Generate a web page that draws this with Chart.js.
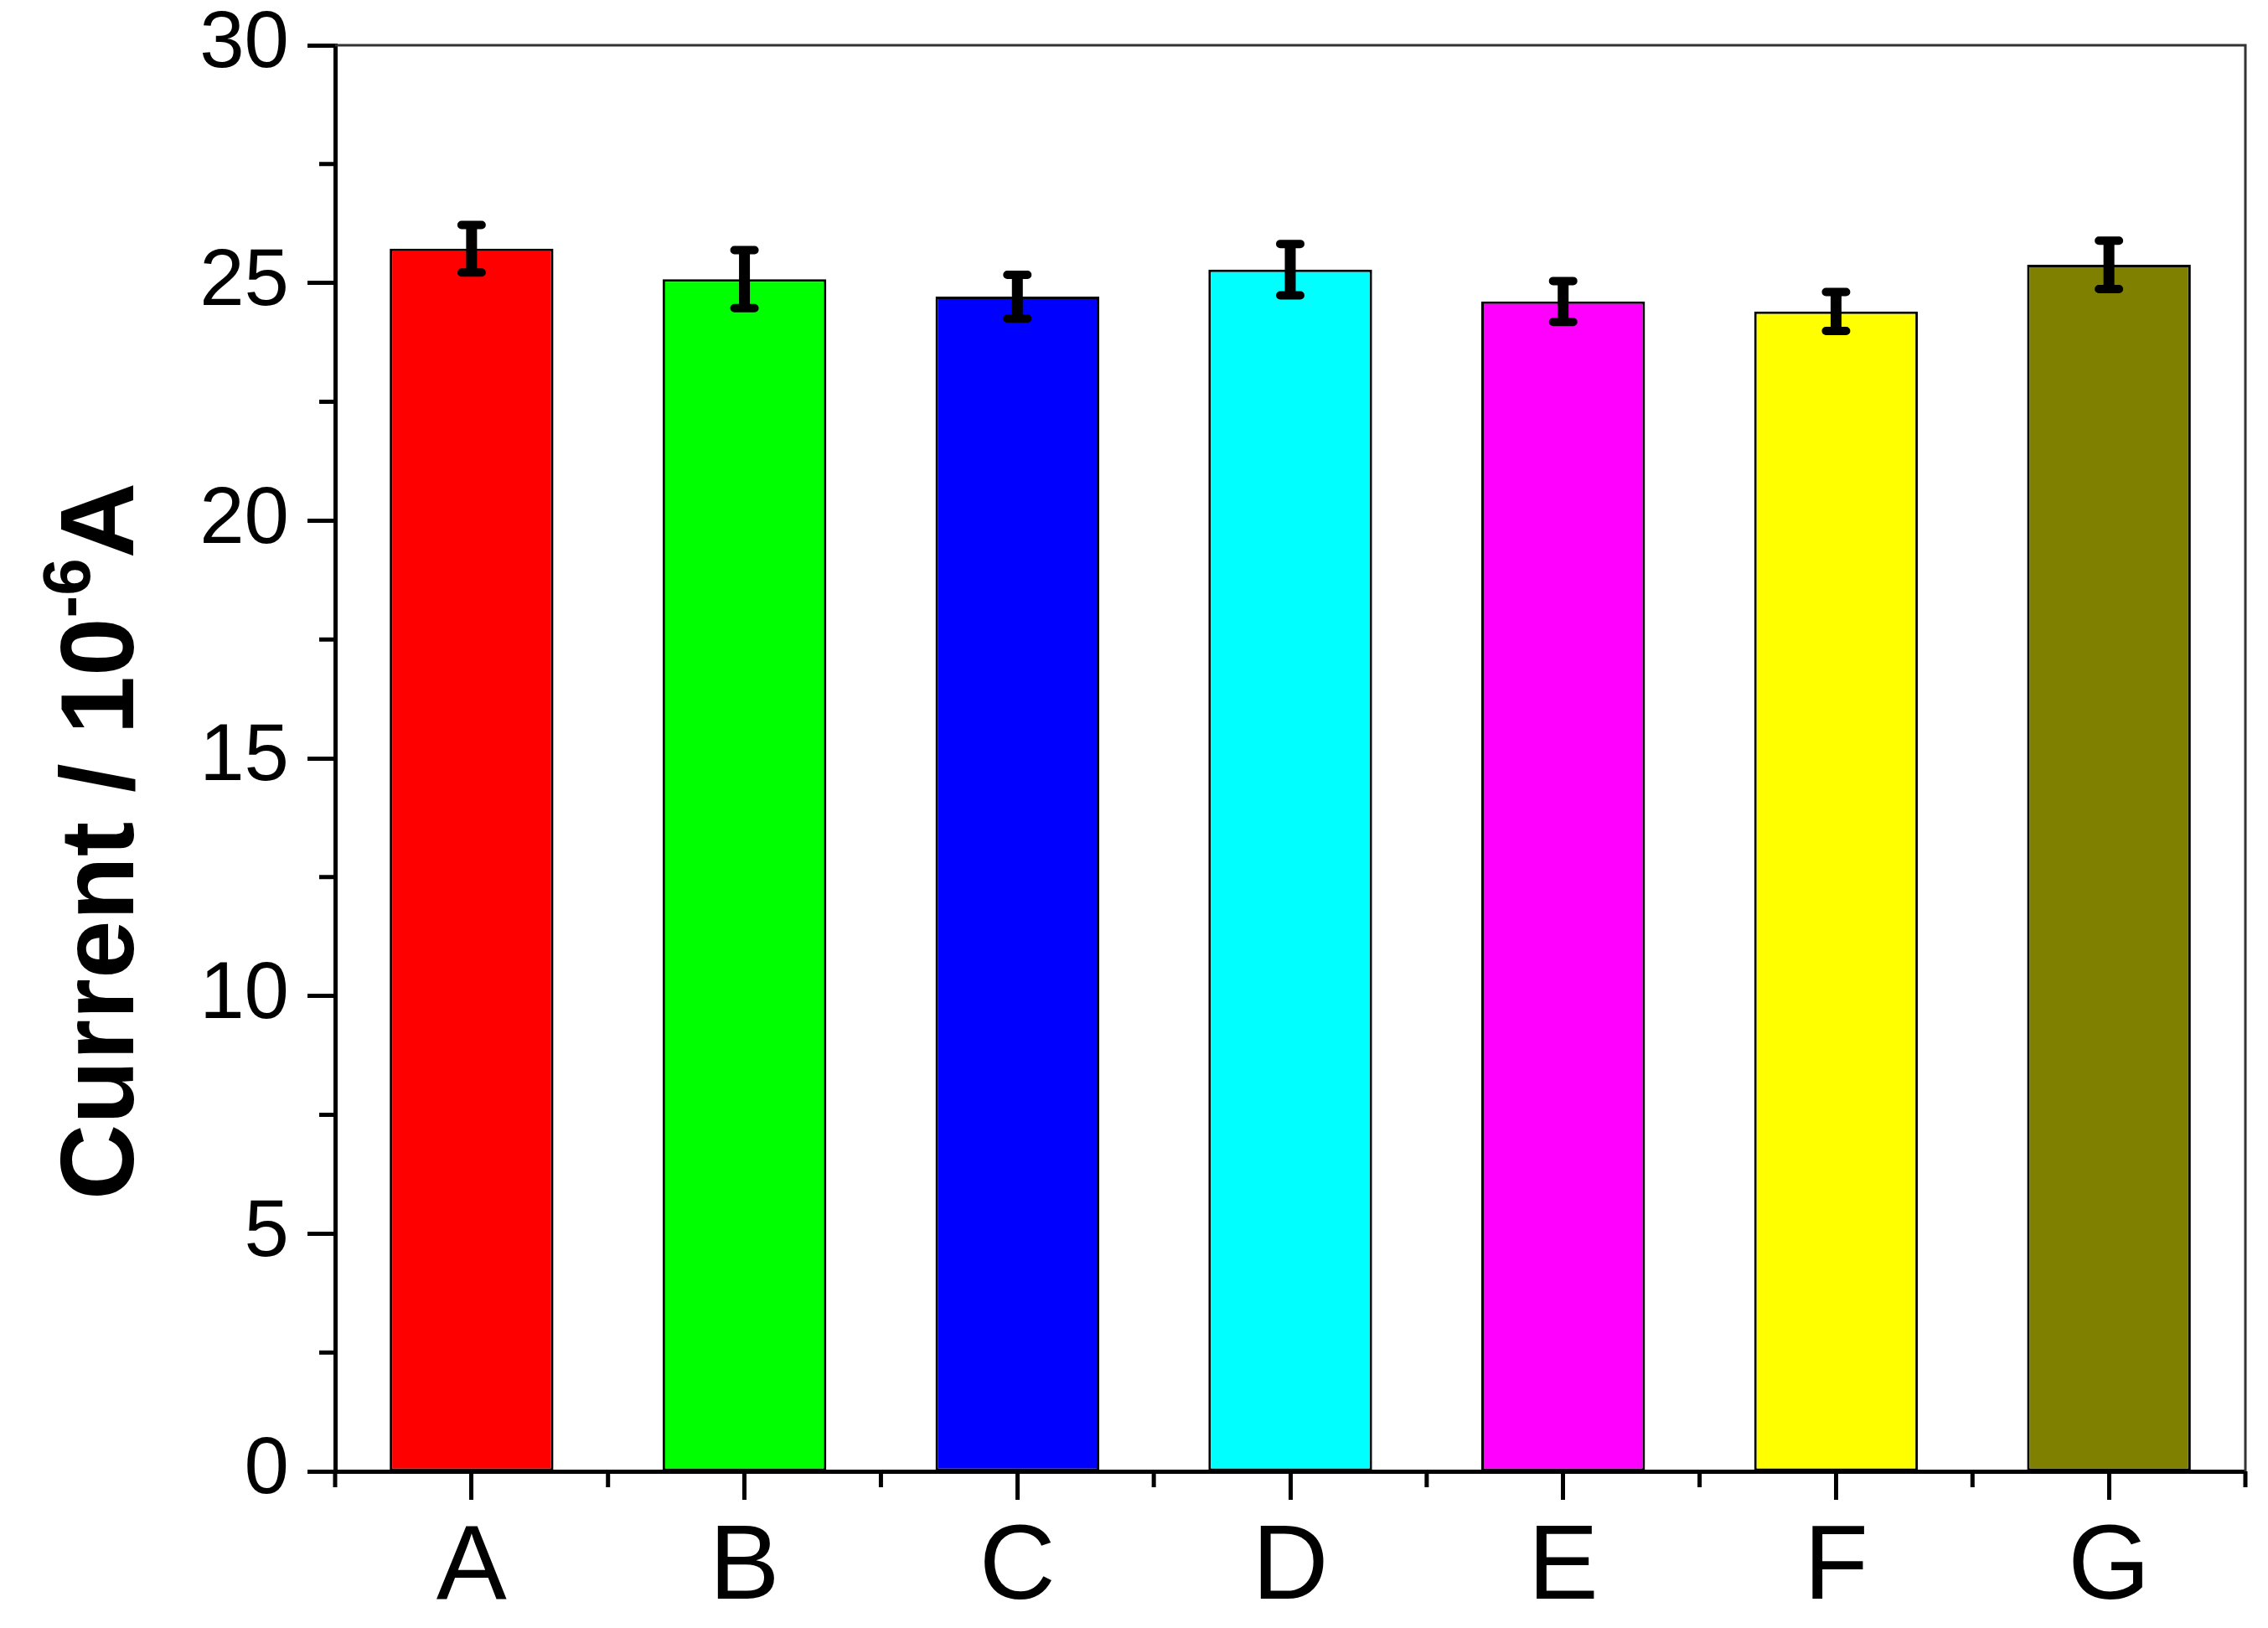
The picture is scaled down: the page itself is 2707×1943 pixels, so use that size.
<!DOCTYPE html>
<html>
<head>
<meta charset="utf-8">
<script src="https://cdn.jsdelivr.net/npm/chart.js@4"></script>
<style>
  html, body { margin: 0; padding: 0; background: #fff; }
  #wrap { width: 2707px; height: 1943px; }
</style>
</head>
<body>
<div id="wrap"><canvas id="chart"></canvas></div>
<script>
// data
const categories = ['A', 'B', 'C', 'D', 'E', 'F', 'G'];
const currents = [25.72, 25.08, 24.71, 25.28, 24.61, 24.40, 25.38];
const errors = [0.50, 0.61, 0.46, 0.54, 0.43, 0.41, 0.51];
const barColors = ['#ff0000', '#00ff00', '#0000ff', '#00ffff', '#ff00ff', '#ffff00', '#808000'];
const yTicks = [0, 5, 10, 15, 20, 25, 30];
const yMinorTicks = [2.5, 7.5, 12.5, 17.5, 22.5, 27.5];

const FONT = '"Liberation Sans", Arial, sans-serif';

// error bars, minor ticks, frame and the y title
const extras = {
  id: 'extras',
  afterDatasetsDraw(chart) {
    const ctx = chart.ctx;
    const y = chart.scales.y;
    const meta = chart.getDatasetMeta(0);
    ctx.save();
    ctx.strokeStyle = '#000';
    meta.data.forEach((bar, i) => {
      const top = y.getPixelForValue(currents[i] + errors[i]);
      const bot = y.getPixelForValue(currents[i] - errors[i]);
      ctx.lineCap = 'butt';
      ctx.lineWidth = 13;
      ctx.beginPath();
      ctx.moveTo(bar.x, top);
      ctx.lineTo(bar.x, bot);
      ctx.stroke();
      ctx.lineCap = 'round';
      ctx.lineWidth = 10;
      ctx.beginPath();
      ctx.moveTo(bar.x - 12, top); ctx.lineTo(bar.x + 12, top);
      ctx.moveTo(bar.x - 12, bot); ctx.lineTo(bar.x + 12, bot);
      ctx.stroke();
    });
    ctx.restore();
  },
  afterDraw(chart) {
    const ctx = chart.ctx;
    const a = chart.chartArea;
    const x = chart.scales.x;
    const y = chart.scales.y;
    ctx.save();
    // top + right frame
    ctx.strokeStyle = '#333';
    ctx.lineWidth = 3;
    ctx.beginPath();
    ctx.moveTo(a.left, a.top);
    ctx.lineTo(a.right, a.top);
    ctx.lineTo(a.right, a.bottom);
    ctx.stroke();

    // minor ticks
    ctx.strokeStyle = '#000';
    ctx.lineWidth = 5;
    ctx.beginPath();
    yMinorTicks.forEach(v => {
      const py = y.getPixelForValue(v);
      ctx.moveTo(a.left, py);
      ctx.lineTo(a.left - 19, py);
    });
    for (let i = 0; i <= categories.length; i++) {
      const px = x.getPixelForValue(i - 0.5);
      ctx.moveTo(px, a.bottom);
      ctx.lineTo(px, a.bottom + 19);
    }
    ctx.stroke();

    // y title with superscript
    const big = 'bold 125px ' + FONT;
    const small = 'bold 80px ' + FONT;
    const p1 = 'Current / 10', sup = '-6', p2 = 'A';
    ctx.font = big;
    const w1 = ctx.measureText(p1).width;
    const w3 = ctx.measureText(p2).width;
    ctx.font = small;
    const w2 = ctx.measureText(sup).width;
    const total = w1 + w2 + w3;
    ctx.translate(159, 1004);
    ctx.rotate(-Math.PI / 2);
    ctx.fillStyle = '#000';
    ctx.textBaseline = 'alphabetic';
    ctx.textAlign = 'left';
    let cx = -total / 2;
    ctx.font = big;
    ctx.fillText(p1, cx, 0);
    cx += w1;
    ctx.font = small;
    ctx.fillText(sup, cx, -52);
    cx += w2;
    ctx.font = big;
    ctx.fillText(p2, cx, 0);
    ctx.restore();
  }
};

new Chart(document.getElementById('chart'), {
  type: 'bar',
  data: {
    labels: categories,
    datasets: [{
      data: currents,
      backgroundColor: barColors,
      borderColor: '#000',
      borderWidth: 3,
      borderSkipped: false,
      barPercentage: 0.6,
      categoryPercentage: 1
    }]
  },
  options: {
    responsive: true,
    maintainAspectRatio: false,
    animation: false,
    devicePixelRatio: 1,
    layout: { padding: { top: 54, right: 27, left: 0, bottom: 0 } },
    plugins: {
      legend: { display: false },
      tooltip: { enabled: false }
    },
    scales: {
      x: {
        afterFit: s => { s.height = 187; s.paddingLeft = 0; s.paddingRight = 0; },
        border: { display: true, color: '#000', width: 5 },
        grid: {
          offset: false,
          drawOnChartArea: false,
          drawTicks: true,
          tickLength: 34,
          tickWidth: 5,
          tickColor: '#000',
          color: '#000'
        },
        ticks: {
          color: '#000',
          padding: 8,
          font: { family: FONT, size: 126 }
        }
      },
      y: {
        min: 0,
        max: 30,
        afterFit: s => { s.width = 400; s.paddingTop = 0; s.paddingBottom = 0; },
        afterBuildTicks: s => { s.ticks = yTicks.map(v => ({ value: v })); },
        border: { display: true, color: '#000', width: 5 },
        grid: {
          drawOnChartArea: false,
          drawTicks: true,
          tickLength: 33,
          tickWidth: 5,
          tickColor: '#000',
          color: '#000'
        },
        ticks: {
          color: '#000',
          padding: 22,
          font: { family: FONT, size: 96 }
        }
      }
    }
  },
  plugins: [extras]
});
</script>
</body>
</html>
